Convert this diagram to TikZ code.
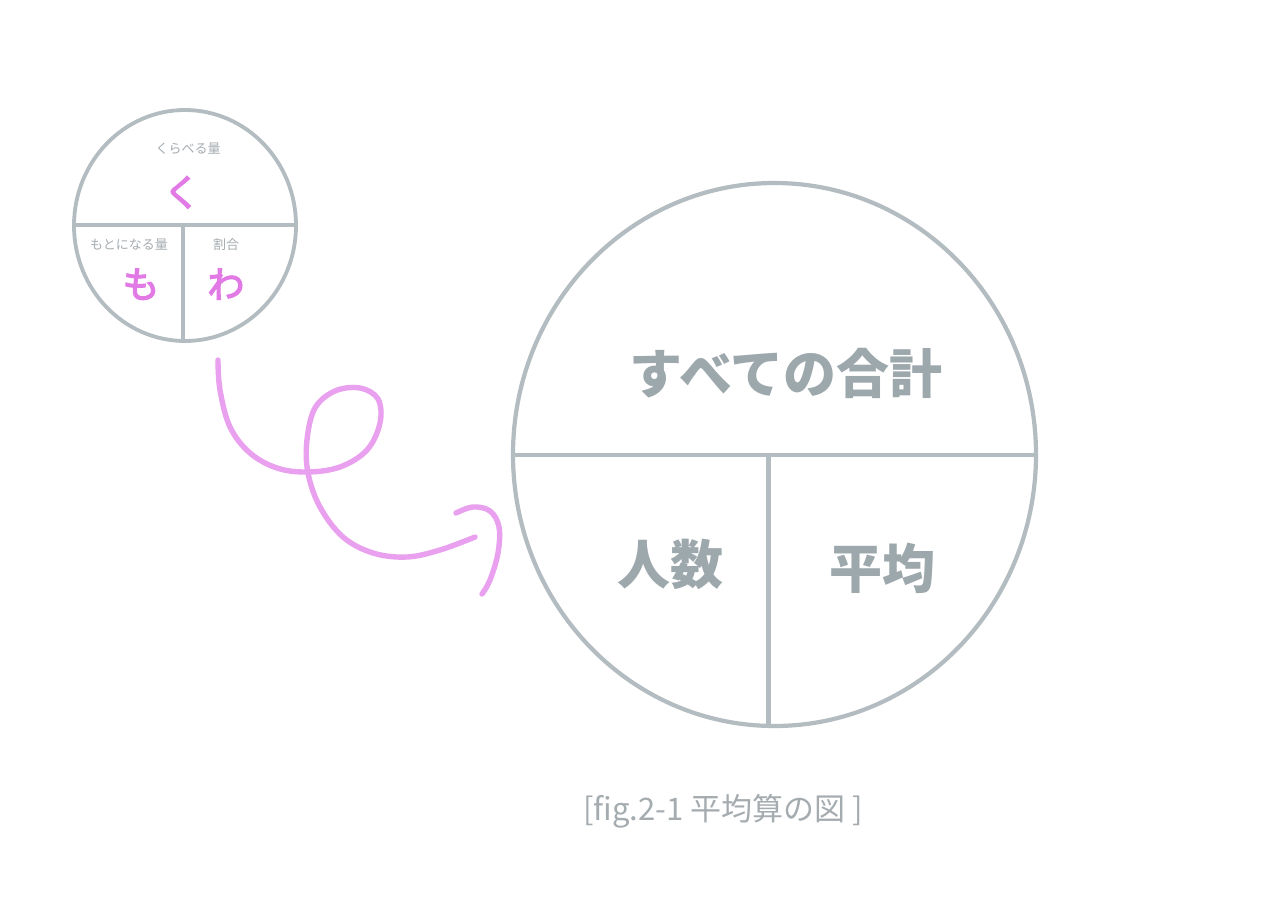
\documentclass[tikz,border=0pt]{standalone}
\usepackage{fontspec}
\newfontfamily\jp{Noto Sans CJK JP}
\newfontfamily\jpk[FakeBold=3.5]{Noto Sans CJK JP}
\definecolor{linegray}{HTML}{B3BCC0}
\definecolor{textgray}{HTML}{9DA8AD}
\definecolor{lightgray}{HTML}{A5ACB0}
\definecolor{pinktext}{HTML}{E27AE6}
\definecolor{pinkline}{HTML}{E9A0EE}
\tikzset{
  ring/.style={draw=linegray, line width=4.2pt},
  divider/.style={draw=linegray, line width=4.2pt},
  smallring/.style={draw=linegray, line width=3.8pt},
  smalllabel/.style={anchor=base, inner sep=0pt, text=lightgray, font=\jp\fontsize{13}{13}\selectfont},
  kana/.style={anchor=base, inner sep=0pt, text=pinktext, font=\jpk\fontsize{37}{37}\selectfont},
  bigtext/.style={anchor=base, inner sep=0pt, text=textgray, font=\jp\bfseries\fontsize{53}{53}\selectfont},
  caption/.style={anchor=base, inner sep=0pt, text=lightgray, font=\jp\fontsize{31}{31}\selectfont},
  squiggle/.style={draw=pinkline, line width=5.4pt, line cap=round, line join=round}
}
\begin{document}
\begin{tikzpicture}[x=1pt, y=-1pt]
\useasboundingbox (0,0) rectangle (1280,913);
\fill[white] (0,0) rectangle (1280,913);

% small circle
\coordinate (sc) at (185,225.5);
\draw[smallring] (sc) ellipse [x radius=111, y radius=115.5];
\coordinate (sl) at (74,225);
\coordinate (sr) at (296,225);
\coordinate (sm) at (183,225);
\coordinate (sb) at (183,341);
\draw[smallring] (sl) -- (sr);
\draw[smallring] (sm) -- (sb);
\node[smalllabel] (lk) at (188,153) {くらべる量};
\node[smalllabel] (lm) at (129,249) {もとになる量};
\node[smalllabel] (lw) at (226,249) {割合};
\node[kana] (ku) at (182,206) {く};
\node[kana] (mo) at (141,298) {も};
\node[kana] (wa) at (226,298) {わ};

% large circle
\coordinate (bc) at (774.5,454.5);
\draw[ring] (bc) ellipse [x radius=261.5, y radius=271.5];
\coordinate (bl) at (513,455);
\coordinate (br) at (1036,455);
\coordinate (bm) at (768.5,455);
\coordinate (bb) at (768.5,726);
\draw[divider] (bl) -- (br);
\draw[divider] (bm) -- (bb);
\node[bigtext] (total) at (786,393) {すべての合計};
\node[bigtext] (ninzu) at (670,584) {人数};
\node[bigtext] (heikin) at (882,588) {平均};

% squiggle
\draw[squiggle] plot[smooth, tension=0.6] coordinates {
  (218,360) (220,390) (230,427) (250,453) (277,468) (307,472) (340,467)
  (367,450) (380,423) (378,399) (360,388) (335,391) (315,408) (307,440)
  (308,473) (320,507) (343,537) (373,553) (407,557) (440,550) (475,537)};
\draw[squiggle] plot[smooth, tension=0.6] coordinates {
  (456,513) (473,507) (490,511) (499,527) (498,553) (490,580) (482,594)};

% caption
\node[caption] (cap) at (723,820) {[fig.2-1 平均算の図 ]};
\end{tikzpicture}
\end{document}
